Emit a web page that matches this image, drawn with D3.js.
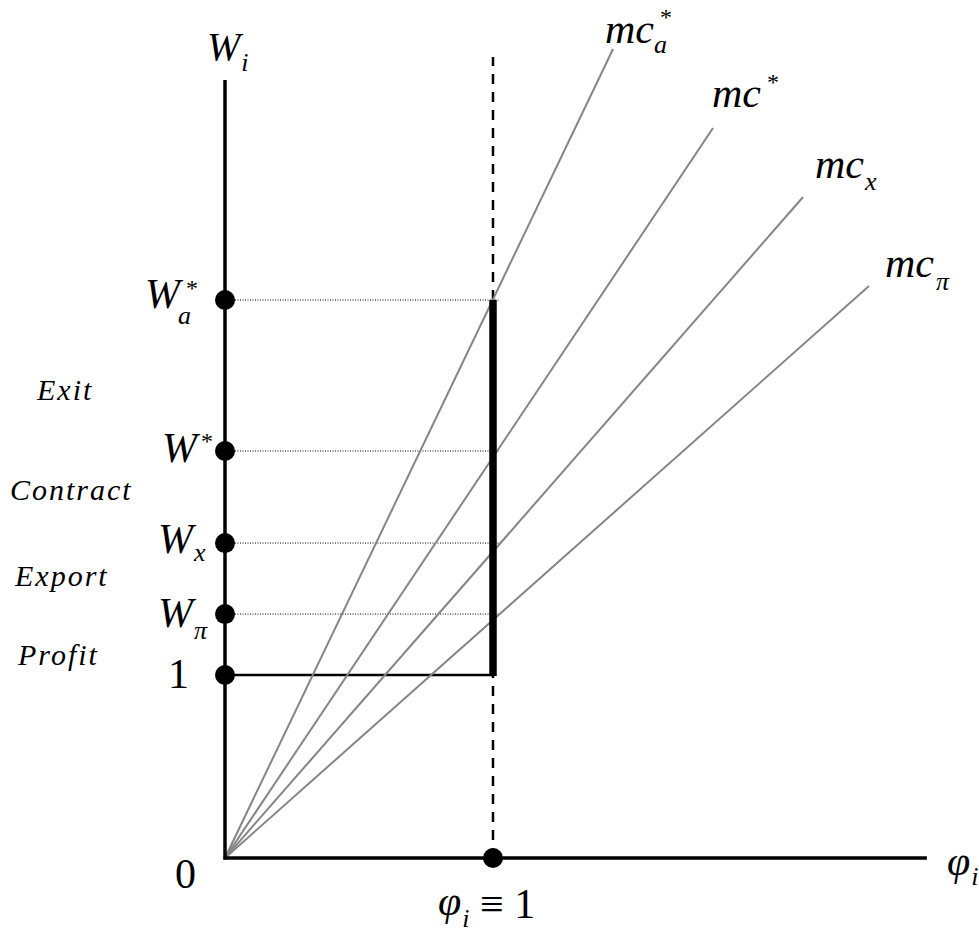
<html>
    <head>
        <script src="https://d3js.org/d3.v7.min.js"></script>
        <style type="text/css">
            body {
                background: #fff;
                margin: 0;
            }
            svg text {
                font-family: "Liberation Serif", "Times New Roman", serif;
                fill: #000;
            }
            .it { font-style: italic; }
        </style>
    </head>
    <body>
        <svg id="chart" width="979" height="933" xmlns="http://www.w3.org/2000/svg"></svg>

        <script type="text/javascript">
        // threshold wages on the W_i axis (1 = the frontier firm)
        const levelNames = ["1", "W_pi", "W_x", "W*", "W_a*"];
        const levelW = [1, 1.333, 1.721, 2.224, 3.049];

        // marginal cost rays from the origin, ending at (phi, W)
        const mcNames = ["mc_a*", "mc*", "mc_x", "mc_pi"];
        const mcEndPhi = [1.448, 1.821, 2.157, 2.403];
        const mcEndW = [4.421, 3.989, 3.612, 3.126];

        // regions between the thresholds
        const regions = ["Profit", "Export", "Contract", "Exit"];

        // axis extents
        const phiMax = 2.619;
        const wMax = 4.251;
        const dashTop = 4.377;

        const svg = d3.select("#chart");

        const x = d3.scaleLinear().domain([0, 1]).range([225, 493]);
        const y = d3.scaleLinear().domain([0, 1]).range([858, 675]);

        // dotted guides from the axis to phi = 1
        svg.append("g")
            .selectAll("line")
            .data(levelW.slice(1))
            .join("line")
            .attr("x1", x(0)).attr("x2", x(1) + 7)
            .attr("y1", d => y(d)).attr("y2", d => y(d))
            .attr("stroke", "#000")
            .attr("stroke-width", 1)
            .attr("stroke-dasharray", "1,1.5");

        // dashed vertical at phi = 1
        svg.append("line")
            .attr("x1", x(1)).attr("x2", x(1))
            .attr("y1", y(0)).attr("y2", y(dashTop))
            .attr("stroke", "#000")
            .attr("stroke-width", 2.5)
            .attr("stroke-dasharray", "10,8");

        // horizontal at W = 1
        svg.append("line")
            .attr("x1", x(0)).attr("x2", x(1))
            .attr("y1", y(1)).attr("y2", y(1))
            .attr("stroke", "#000")
            .attr("stroke-width", 2.5);

        // mc rays
        svg.append("g")
            .selectAll("line")
            .data(mcNames.map((n, i) => ({ name: n, phi: mcEndPhi[i], w: mcEndW[i] })))
            .join("line")
            .attr("x1", x(0)).attr("y1", y(0))
            .attr("x2", d => x(d.phi)).attr("y2", d => y(d.w))
            .attr("stroke", "#858585")
            .attr("stroke-width", 2);

        // thick bar from W = 1 up to W_a*
        svg.append("line")
            .attr("x1", x(1)).attr("x2", x(1))
            .attr("y1", y(1) + 1).attr("y2", y(d3.max(levelW)))
            .attr("stroke", "#000")
            .attr("stroke-width", 7.5);

        // axes
        svg.append("line")
            .attr("x1", x(0)).attr("x2", x(0))
            .attr("y1", y(0) + 1.5).attr("y2", y(wMax))
            .attr("stroke", "#000").attr("stroke-width", 3.5);
        svg.append("line")
            .attr("x1", x(0) - 1.5).attr("x2", x(phiMax))
            .attr("y1", y(0)).attr("y2", y(0))
            .attr("stroke", "#000").attr("stroke-width", 3.5);

        // dots
        svg.append("g")
            .selectAll("circle")
            .data(levelW)
            .join("circle")
            .attr("cx", x(0)).attr("cy", d => y(d))
            .attr("r", 10)
            .attr("fill", "#000");
        svg.append("circle")
            .attr("cx", x(1)).attr("cy", y(0))
            .attr("r", 10).attr("fill", "#000");

        // label with optional subscript / superscript
        function label(lx, base, main, sub, sup, o = {}) {
            const t = svg.append("text")
                .attr("class", o.upright ? null : "it")
                .attr("x", lx).attr("y", base)
                .attr("font-size", o.size || 42)
                .text(main);
            const w = t.node().getComputedTextLength();
            if (sub) {
                svg.append("text")
                    .attr("class", "it")
                    .attr("x", lx + w + (o.subDx || 0))
                    .attr("y", base + (o.subDy || 12))
                    .attr("font-size", 26)
                    .text(sub);
            }
            if (sup) {
                svg.append("text")
                    .attr("x", lx + w + (o.supDx || 2))
                    .attr("y", base + (o.supDy || -17))
                    .attr("font-size", 24)
                    .attr("fill", "#333")
                    .text(sup);
            }
        }

        const subOf = { "W_pi": "\u03c0", "W_x": "x", "W_a*": "a", "mc_a*": "a", "mc_x": "x", "mc_pi": "\u03c0" };
        const supOf = { "W*": "*", "W_a*": "*", "mc_a*": "*", "mc*": "*" };

        // W_i axis title
        label(x(0) - 18, y(wMax) - 20, "W", "i", null, { size: 40, subDy: 11, subDx: 1 });

        // threshold labels
        const levelPos = {
            "1": [168, 13, {}],
            "W_pi": [158, 13, { subDy: 12, subDx: 1 }],
            "W_x": [158, 10, { subDy: 8, subDx: 1 }],
            "W*": [162, 11, { supDx: 4, supDy: -13 }],
            "W_a*": [145, 8, { subDy: 16, subDx: -2, supDx: 6, supDy: -12 }]
        };
        levelNames.forEach((n, i) => {
            const p = levelPos[n];
            const base = y(levelW[i]) + p[1];
            if (n === "1") {
                label(p[0], base, "1", null, null, { upright: true });
            } else {
                label(p[0], base, "W", subOf[n], supOf[n], p[2]);
            }
        });

        // mc labels
        const mcPos = {
            "mc_a*": [605, 43, { subDy: 10, subDx: 0, supDx: 6, supDy: -18 }],
            "mc*": [712, 107, { supDx: 6, supDy: -17 }],
            "mc_x": [815, 178, { subDy: 12, subDx: 1 }],
            "mc_pi": [885, 277, { subDy: 13, subDx: 2 }]
        };
        mcNames.forEach(n => {
            const p = mcPos[n];
            label(p[0], p[1], "mc", subOf[n], supOf[n], p[2]);
        });

        // origin and phi labels
        label(175, y(0) + 30, "0", null, null, { upright: true });
        label(947, y(0) + 17, "\u03c6", "i", null, { subDy: 10, subDx: 1 });
        label(438, y(0) + 57, "\u03c6", "i", null, { subDy: 12, subDx: 1 });
        svg.append("text")
            .attr("x", 480).attr("y", y(0) + 60)
            .attr("font-size", 42)
            .text("\u2261 1");

        // region labels
        const regionBase = [665, 586, 500, 400];
        const regionLeft = [18, 15, 10, 37];
        svg.append("g")
            .selectAll("text")
            .data(regions)
            .join("text")
            .attr("class", "it")
            .attr("x", (d, i) => regionLeft[i])
            .attr("y", (d, i) => regionBase[i])
            .attr("font-size", 30)
            .attr("letter-spacing", "2px")
            .text(d => d);
        </script>
    </body>
</html>
